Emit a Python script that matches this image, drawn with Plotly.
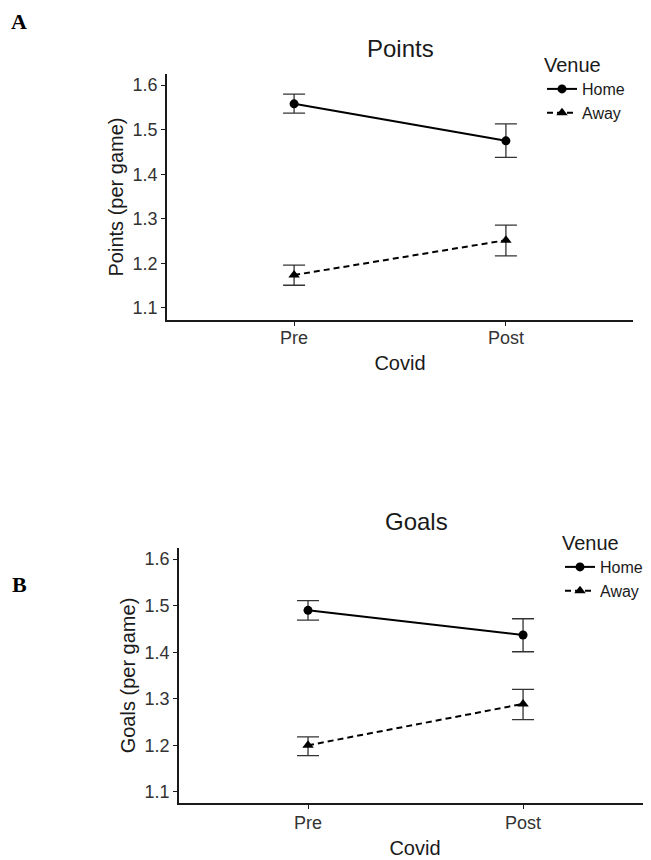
import plotly.graph_objects as go

# ---- data ----
covid = ["Pre", "Post"]
venues = ["Home", "Away"]

points_home = [1.558, 1.475]
points_home_lo = [1.537, 1.438]
points_home_hi = [1.580, 1.513]
points_away = [1.174, 1.252]
points_away_lo = [1.151, 1.217]
points_away_hi = [1.196, 1.286]

goals_home = [1.490, 1.437]
goals_home_lo = [1.469, 1.401]
goals_home_hi = [1.511, 1.472]
goals_away = [1.200, 1.289]
goals_away_lo = [1.178, 1.255]
goals_away_hi = [1.218, 1.320]

y_ticks = [1.1, 1.2, 1.3, 1.4, 1.5, 1.6]

FONT = "Liberation Sans, Arial, Helvetica, sans-serif"
SERIF = "Liberation Serif, Times New Roman, serif"
DARK = "#1a1a1a"
TICKC = "#333333"

# page is 651x860 but the browser body has an 8px margin
OFF = 8
W, H = 651 - OFF, 860 - OFF


def px(x):
    return (x - OFF) / W


def py(y):
    return 1 - (y - OFF) / H


fig = go.Figure()


def add_series(vals, lo, hi, name, symbol, dash, xa, ya, legend):
    fig.add_trace(go.Scatter(
        x=covid, y=vals, name=name, mode="lines+markers",
        xaxis=xa, yaxis=ya, legend=legend, showlegend=True,
        line=dict(color="black", width=2, dash=dash),
        marker=dict(symbol=symbol, size=9 if symbol == "circle" else 10, color="black"),
        error_y=dict(type="data", symmetric=False,
                     array=[h - v for h, v in zip(hi, vals)],
                     arrayminus=[v - l for v, l in zip(vals, lo)],
                     color="#333333", thickness=1.3, width=11),
    ))


add_series(points_home, points_home_lo, points_home_hi, venues[0], "circle", "solid", "x", "y", "legend")
add_series(points_away, points_away_lo, points_away_hi, venues[1], "triangle-up", "6px,4px", "x", "y", "legend")
add_series(goals_home, goals_home_lo, goals_home_hi, venues[0], "circle", "solid", "x2", "y2", "legend2")
add_series(goals_away, goals_away_lo, goals_away_hi, venues[1], "triangle-up", "6px,4px", "x2", "y2", "legend2")

axis_common = dict(
    showline=True, linecolor=DARK, linewidth=1.5, mirror=False,
    ticks="outside", ticklen=4, tickwidth=1.2, tickcolor=DARK,
    tickfont=dict(family=FONT, size=18, color=TICKC),
    showgrid=False, zeroline=False, automargin=False,
)

xA = dict(axis_common, type="category", range=[-0.6, 1.6],
          domain=[px(167), px(633)], anchor="y", ticklabelstandoff=-3,
          title=dict(text="Covid", font=dict(family=FONT, size=20, color=DARK), standoff=9))
yA = dict(axis_common, range=[1.073, 1.625], tickvals=y_ticks, tickformat=".1f",
          domain=[py(320), py(74)], anchor="x",
          title=dict(text="Points (per game)", font=dict(family=FONT, size=20, color=DARK), standoff=4))
xB = dict(axis_common, type="category", range=[-0.6, 1.595],
          domain=[px(179), 1.0], anchor="y2", ticklabelstandoff=-1,
          title=dict(text="Covid", font=dict(family=FONT, size=20, color=DARK), standoff=9))
yB = dict(axis_common, range=[1.076, 1.624], tickvals=y_ticks, tickformat=".1f",
          domain=[py(803), py(548)], anchor="x2",
          title=dict(text="Goals (per game)", font=dict(family=FONT, size=20, color=DARK), standoff=4))

legend_common = dict(
    font=dict(family=FONT, size=16, color=DARK),
    bgcolor="rgba(0,0,0,0)", borderwidth=0,
    xanchor="left", yanchor="top", tracegroupgap=0,
    itemwidth=30,
)

fig.update_layout(
    width=W, height=H,
    margin=dict(l=0, r=0, t=0, b=0, autoexpand=False),
    paper_bgcolor="white", plot_bgcolor="white",
    font=dict(family=FONT, color=DARK),
    xaxis=xA, yaxis=yA, xaxis2=xB, yaxis2=yB,
    legend=dict(legend_common, x=px(542), y=py(46),
                title=dict(text="Venue", font=dict(family=FONT, size=20, color=DARK))),
    legend2=dict(legend_common, x=px(560), y=py(524),
                 title=dict(text="Venue", font=dict(family=FONT, size=20, color=DARK))),
    annotations=[
        dict(text="Points", x=px(400), y=py(48), xref="paper", yref="paper",
             showarrow=False, xanchor="center", yanchor="middle",
             font=dict(family=FONT, size=24, color=DARK)),
        dict(text="Goals", x=px(416), y=py(521), xref="paper", yref="paper",
             showarrow=False, xanchor="center", yanchor="middle",
             font=dict(family=FONT, size=24, color=DARK)),
        dict(text="<b>A</b>", x=px(10), y=1.0, xref="paper", yref="paper",
             showarrow=False, xanchor="left", yanchor="top", borderpad=0,
             font=dict(family=SERIF, size=22, color="black")),
        dict(text="<b>B</b>", x=px(10), y=py(584), xref="paper", yref="paper",
             showarrow=False, xanchor="left", yanchor="middle",
             font=dict(family=SERIF, size=22, color="black")),
    ],
)

fig.write_html("out.html")
